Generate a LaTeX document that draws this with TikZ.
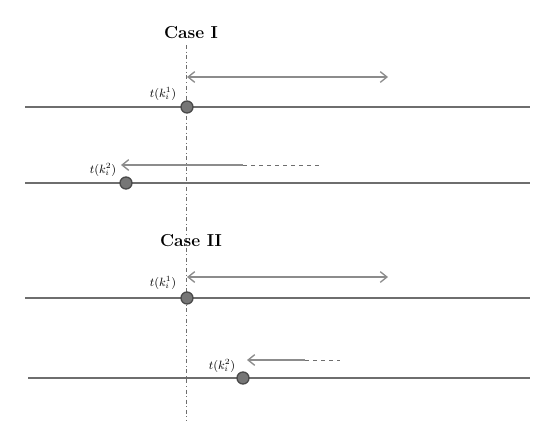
\documentclass[tikz,border=0pt]{standalone}
\usetikzlibrary{arrows.meta}
\definecolor{linegray}{HTML}{6E6E6E}
\definecolor{arrowgray}{HTML}{8C8C8C}
\definecolor{dotgray}{HTML}{767676}
\definecolor{dotedge}{HTML}{4A4A4A}
\tikzset{
  timeline/.style={draw=linegray, line width=0.8pt},
  knot/.style={circle, fill=dotgray, draw=dotedge, line width=1pt, inner sep=0pt, minimum size=9pt},
  shift arrow/.style={draw=arrowgray, line width=1pt, -{Straight Barb[length=5pt,width=8pt]}},
  span arrow/.style={draw=arrowgray, line width=1pt, {Straight Barb[length=5pt,width=8pt]}-{Straight Barb[length=5pt,width=8pt]}},
  tail/.style={draw=linegray, dashed, line width=0.6pt},
  knotlabel/.style={font=\fontsize{9}{10}\selectfont, inner sep=1pt},
  casetitle/.style={font=\fontsize{13}{15}\selectfont\bfseries}
}
\begin{document}
\begin{tikzpicture}[x=0.75pt, y=-0.75pt]
    \useasboundingbox (0,0) rectangle (545,443);

    % reference time
    \coordinate (top) at (186, 45);
    \coordinate (bot) at (186, 420);
    \draw[linegray, line width=0.6pt, dash dot] (top) -- (bot);

    % Case I
    \node[casetitle] (caseI) at (191, 33) {Case I};

    \coordinate (L1a) at (25, 107);
    \coordinate (L1b) at (530, 107);
    \draw[timeline] (L1a) -- (L1b);
    \node[knot] (K1) at (187, 107) {};
    \node[knotlabel] (T1) at (163, 94) {$t(k_i^1)$};
    \coordinate (S1a) at (187, 77);
    \coordinate (S1b) at (388, 77);
    \draw[span arrow] (S1a) -- (S1b);

    \coordinate (L2a) at (25, 183);
    \coordinate (L2b) at (530, 183);
    \draw[timeline] (L2a) -- (L2b);
    \node[knot] (K2) at (126, 183) {};
    \node[knotlabel] (T2) at (103, 170) {$t(k_i^2)$};
    \coordinate (M2) at (243, 165);
    \coordinate (E2) at (121, 165);
    \coordinate (D2) at (322, 165);
    \draw[shift arrow] (M2) -- (E2);
    \draw[tail] (M2) -- (D2);

    % Case II
    \node[casetitle] (caseII) at (191, 241) {Case II};

    \coordinate (L3a) at (25, 298);
    \coordinate (L3b) at (530, 298);
    \draw[timeline] (L3a) -- (L3b);
    \node[knot] (K3) at (187, 298) {};
    \node[knotlabel] (T3) at (163, 283) {$t(k_i^1)$};
    \coordinate (S3a) at (187, 277);
    \coordinate (S3b) at (388, 277);
    \draw[span arrow] (S3a) -- (S3b);

    \coordinate (L4a) at (28, 378);
    \coordinate (L4b) at (530, 378);
    \draw[timeline] (L4a) -- (L4b);
    \node[knot] (K4) at (243, 378) {};
    \node[knotlabel] (T4) at (222, 366) {$t(k_i^2)$};
    \coordinate (M4) at (305, 360);
    \coordinate (E4) at (247, 360);
    \coordinate (D4) at (340, 360);
    \draw[shift arrow] (M4) -- (E4);
    \draw[tail] (M4) -- (D4);
\end{tikzpicture}
\end{document}
